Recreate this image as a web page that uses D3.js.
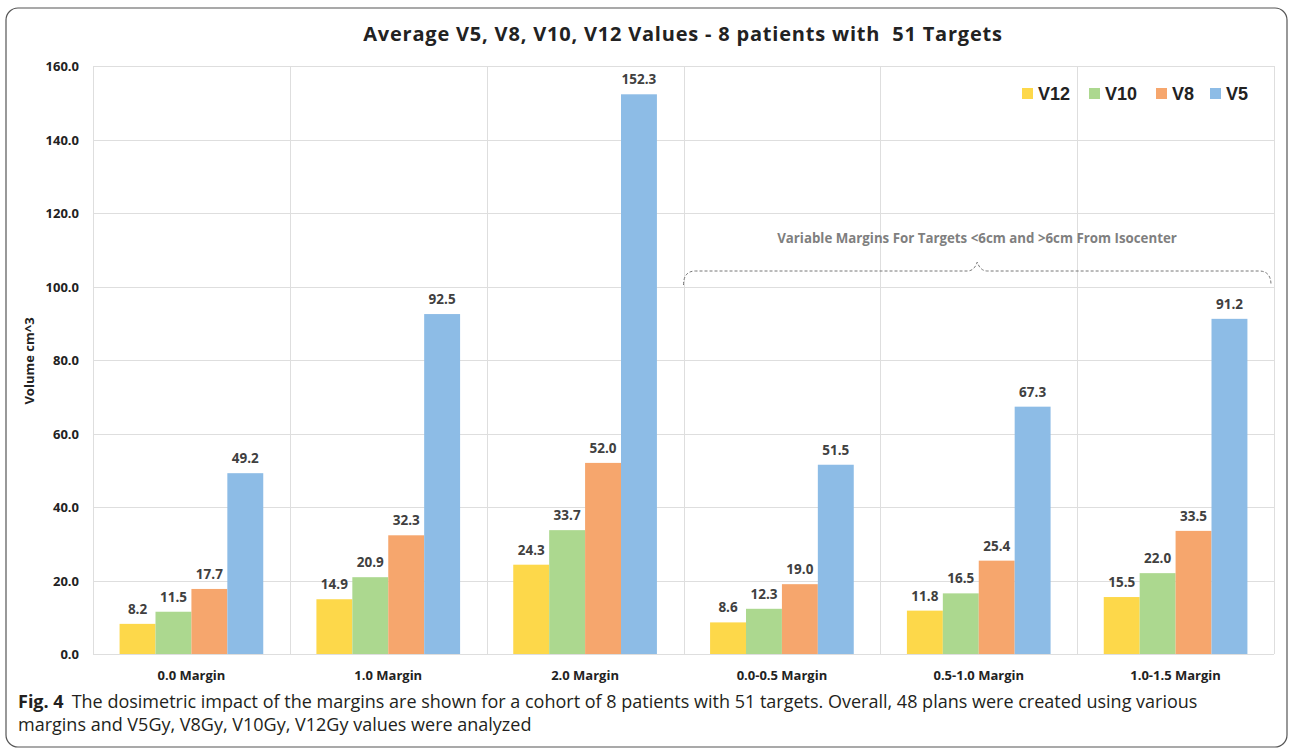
<!DOCTYPE html>
<meta charset="utf-8" />
<html>
  <style>
    body { margin: 0; background: #fff; }
    .frame { fill: none; stroke: #555; stroke-width: 1.2px; }
    .grid line { stroke: #dedede; stroke-width: 1px; }
    .tick-label { font-family: "Open Sans", sans-serif; font-weight: bold; font-size: 13px; fill: #222; }
    .bar-label { font-family: "Open Sans", sans-serif; font-weight: bold; font-size: 13.5px; fill: #404040; }
    .caption { font-family: "Open Sans", sans-serif; font-size: 18px; fill: #231f20; }
  </style>
  <body>
    <svg width="1290" height="753"></svg>
    <script src="https://cdn.jsdelivr.net/npm/d3@7"></script>
  </body>
</html>

<script>
  // categories and series
  var categories = ["0.0 Margin", "1.0 Margin", "2.0 Margin", "0.0-0.5 Margin", "0.5-1.0 Margin", "1.0-1.5 Margin"];
  var seriesNames = ["V12", "V10", "V8", "V5"];
  var v12 = [8.2, 14.9, 24.3, 8.6, 11.8, 15.5];
  var v10 = [11.5, 20.9, 33.7, 12.3, 16.5, 22.0];
  var v8 = [17.7, 32.3, 52.0, 19.0, 25.4, 33.5];
  var v5 = [49.2, 92.5, 152.3, 51.5, 67.3, 91.2];
  var yTicks = [0, 20, 40, 60, 80, 100, 120, 140, 160];
  var colors = ["#fdd84a", "#acd88f", "#f6a66d", "#8dbce6"];

  var series = [v12, v10, v8, v5];

  var svg = d3.select("svg");

  // rounded outer frame
  svg.append("rect")
    .attr("class", "frame")
    .attr("x", 6).attr("y", 8)
    .attr("width", 1281).attr("height", 739)
    .attr("rx", 12);

  // plot box (don't call these top/left, window.top is taken)
  var plotL = 93, plotR = 1274, plotT = 66, plotB = 654;

  var x = d3.scaleBand().domain(categories).range([plotL, plotR]);
  var xs = d3.scaleBand().domain(seriesNames).range([0, x.bandwidth()]).paddingOuter(0.74).paddingInner(0);
  var y = d3.scaleLinear().domain([0, 160]).range([plotB, plotT]);

  // gridlines
  var grid = svg.append("g").attr("class", "grid");
  grid.selectAll("line.h")
    .data(yTicks)
    .enter().append("line")
    .attr("class", "h")
    .attr("x1", plotL).attr("x2", plotR)
    .attr("y1", function (d) { return Math.round(y(d)) + 0.5; })
    .attr("y2", function (d) { return Math.round(y(d)) + 0.5; });
  grid.selectAll("line.v")
    .data(d3.range(categories.length + 1))
    .enter().append("line")
    .attr("class", "v")
    .attr("x1", function (i) { return Math.round(plotL + i * x.bandwidth()) + 0.5; })
    .attr("x2", function (i) { return Math.round(plotL + i * x.bandwidth()) + 0.5; })
    .attr("y1", plotT).attr("y2", plotB);

  // y tick labels
  svg.append("g").selectAll("text")
    .data(yTicks)
    .enter().append("text")
    .attr("class", "tick-label")
    .attr("x", 79)
    .attr("y", function (d) { return y(d) + 5; })
    .attr("text-anchor", "end")
    .text(function (d) { return d.toFixed(1); });

  // y axis title
  svg.append("text")
    .attr("class", "tick-label")
    .attr("transform", "translate(34,361) rotate(-90)")
    .attr("text-anchor", "middle")
    .style("font-size", "13px")
    .text("Volume cm^3");

  // x labels
  svg.append("g").selectAll("text")
    .data(categories)
    .enter().append("text")
    .attr("class", "tick-label")
    .attr("x", function (d) { return x(d) + x.bandwidth() / 2; })
    .attr("y", 680)
    .attr("text-anchor", "middle")
    .text(function (d) { return d; });

  // bars
  var groups = svg.append("g").selectAll("g")
    .data(series)
    .enter().append("g")
    .attr("fill", function (d, i) { return colors[i]; });

  function cells(d, i) {
    return d.map(function (v, j) { return { s: seriesNames[i], c: categories[j], v: v }; });
  }

  groups.selectAll("rect")
    .data(cells)
    .enter().append("rect")
    .attr("x", function (d) { return x(d.c) + xs(d.s); })
    .attr("width", xs.bandwidth())
    .attr("y", function (d) { return y(d.v); })
    .attr("height", function (d) { return plotB - y(d.v); });

  groups.selectAll("text")
    .data(cells)
    .enter().append("text")
    .attr("class", "bar-label")
    .attr("x", function (d) { return x(d.c) + xs(d.s) + xs.bandwidth() / 2; })
    .attr("y", function (d) { return y(d.v) - 10; })
    .attr("text-anchor", "middle")
    .text(function (d) { return d.v.toFixed(1); });

  // title
  svg.append("text")
    .attr("x", 683)
    .attr("y", 41)
    .attr("text-anchor", "middle")
    .attr("font-family", "'Open Sans', sans-serif")
    .attr("font-weight", "bold")
    .attr("font-size", "20px")
    .attr("letter-spacing", "0.8px")
    .attr("fill", "#222")
    .style("white-space", "pre")
    .text("Average V5, V8, V10, V12 Values - 8 patients with  51 Targets");

  // legend
  var legendX = [1022, 1089, 1156, 1210];
  var legend = svg.append("g").selectAll("g")
    .data(seriesNames)
    .enter().append("g")
    .attr("transform", function (d, i) { return "translate(" + legendX[i] + ",88)"; });
  legend.append("rect")
    .attr("width", 11).attr("height", 11)
    .attr("fill", function (d, i) { return colors[i]; });
  legend.append("text")
    .attr("x", 16).attr("y", 12)
    .attr("font-family", "'Liberation Sans', Arial, sans-serif")
    .attr("font-weight", "bold")
    .attr("font-size", "18px")
    .attr("fill", "#222")
    .text(function (d) { return d; });

  // annotation for the variable-margin groups
  svg.append("text")
    .attr("x", 977)
    .attr("y", 243)
    .attr("text-anchor", "middle")
    .attr("font-family", "'Open Sans', sans-serif")
    .attr("font-weight", "bold")
    .attr("font-size", "13.3px")
    .attr("fill", "#7f7f7f")
    .text("Variable Margins For Targets <6cm and >6cm From Isocenter");

  var bx0 = x(categories[3]), bx1 = plotR - 3, bmid = (bx0 + bx1) / 2;
  svg.append("path")
    .attr("d", "M" + bx0 + ",285 Q" + bx0 + ",271 " + (bx0 + 12) + ",271 L" + (bmid - 10) + ",271 Q" + (bmid - 3) + ",271 " + bmid + ",262 Q" + (bmid + 3) + ",271 " + (bmid + 10) + ",271 L" + (bx1 - 12) + ",271 Q" + bx1 + ",271 " + bx1 + ",285")
    .attr("fill", "none")
    .attr("stroke", "#777")
    .attr("stroke-width", 1)
    .attr("stroke-dasharray", "3,2");

  // figure caption
  var cap = svg.append("text").attr("class", "caption").attr("x", 18).attr("y", 708);
  cap.append("tspan").attr("font-weight", "bold").text("Fig. 4");
  cap.append("tspan").attr("dx", 8).text("The dosimetric impact of the margins are shown for a cohort of 8 patients with 51 targets. Overall, 48 plans were created using various");
  svg.append("text").attr("class", "caption").attr("x", 18).attr("y", 731)
    .text("margins and V5Gy, V8Gy, V10Gy, V12Gy values were analyzed");
</script>
